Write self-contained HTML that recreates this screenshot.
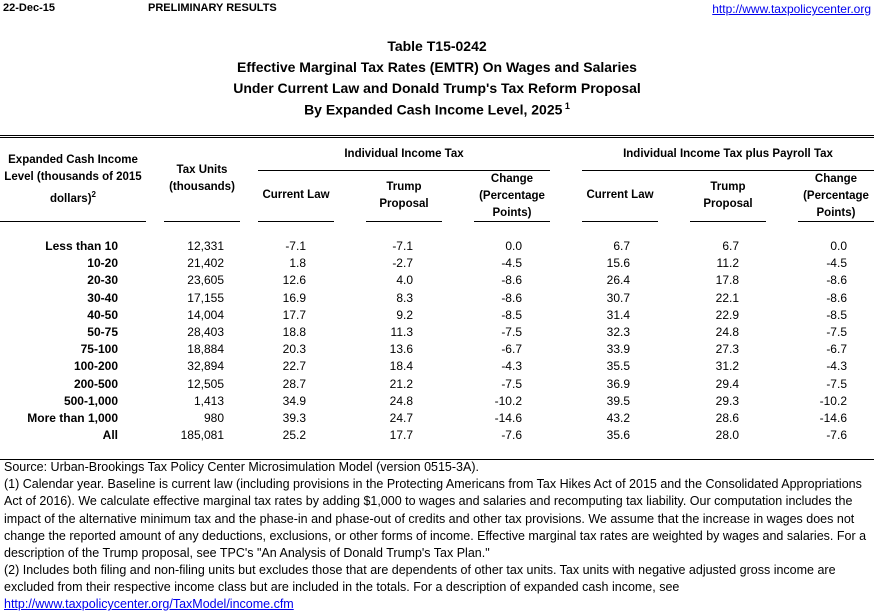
<!DOCTYPE html>
<html><head><meta charset="utf-8"><style>
body{margin:0;width:874px;height:613px;background:#fff;font-family:"Liberation Sans",Arial,sans-serif;color:#000;position:relative;overflow:hidden}
.a{position:absolute;white-space:nowrap}
.b{font-weight:bold}
.h{font-size:11.5px;font-weight:bold;text-align:center;line-height:17px}
.l{position:absolute;height:1px;background:#000}
.t{position:absolute;left:0;width:874px;text-align:center;font-weight:bold;font-size:14px}
.r{position:absolute;font-size:12px;text-align:right;white-space:nowrap}
.f{position:absolute;left:4px;font-size:12.5px;white-space:nowrap}
a{color:#00e}
</style></head><body>
<div class="a b" style="left:3px;top:2px;font-size:11px">22-Dec-15</div>
<div class="a b" style="left:148px;top:2px;font-size:11px">PRELIMINARY RESULTS</div>
<div class="a" style="right:3px;top:2px;font-size:12px;text-decoration:underline;color:#00e">http://www.taxpolicycenter.org</div>
<div class="t" style="top:38px">Table T15-0242</div>
<div class="t" style="top:59px">Effective Marginal Tax Rates (EMTR) On Wages and Salaries</div>
<div class="t" style="top:80px">Under Current Law and Donald Trump's Tax Reform Proposal</div>
<div class="t" style="top:101px">By Expanded Cash Income Level, 2025<sup style="font-size:9px"> 1</sup></div>
<div class="l" style="left:0;width:874px;top:135px"></div>
<div class="l" style="left:0;width:874px;top:137px"></div>
<div class="a h" style="left:0;width:146px;top:152px">Expanded Cash Income<br>Level (thousands of 2015<br>dollars)<sup style="font-size:8px">2</sup></div>
<div class="a h" style="left:160px;width:84px;top:162px">Tax Units<br>(thousands)</div>
<div class="a h" style="left:258px;width:292px;top:146px">Individual Income Tax</div>
<div class="a h" style="left:582px;width:292px;top:146px">Individual Income Tax plus Payroll Tax</div>
<div class="l" style="left:258px;width:292px;top:170px"></div>
<div class="l" style="left:582px;width:292px;top:170px"></div>
<div class="a h" style="left:258px;width:76px;top:187px">Current Law</div>
<div class="a h" style="left:366px;width:76px;top:179px">Trump<br>Proposal</div>
<div class="a h" style="left:470px;width:84px;top:171px">Change<br>(Percentage<br>Points)</div>
<div class="a h" style="left:582px;width:76px;top:187px">Current Law</div>
<div class="a h" style="left:690px;width:76px;top:179px">Trump<br>Proposal</div>
<div class="a h" style="left:794px;width:84px;top:171px">Change<br>(Percentage<br>Points)</div>
<div class="l" style="left:0;width:146px;top:221px"></div>
<div class="l" style="left:164px;width:76px;top:221px"></div>
<div class="l" style="left:258px;width:76px;top:221px"></div>
<div class="l" style="left:366px;width:76px;top:221px"></div>
<div class="l" style="left:474px;width:76px;top:221px"></div>
<div class="l" style="left:582px;width:76px;top:221px"></div>
<div class="l" style="left:690px;width:76px;top:221px"></div>
<div class="l" style="left:798px;width:76px;top:221px"></div>
<div id="rows"></div>
<div class="l" style="left:0;width:874px;top:459px"></div>
<div class="f" style="top:460px">Source: Urban-Brookings Tax Policy Center Microsimulation Model (version 0515-3A).</div>
<div class="f" style="top:477px">(1) Calendar year. Baseline is current law (including provisions in the Protecting Americans from Tax Hikes Act of 2015 and the Consolidated Appropriations</div>
<div class="f" style="top:494px">Act of 2016). We calculate effective marginal tax rates by adding $1,000 to wages and salaries and recomputing tax liability. Our computation includes the</div>
<div class="f" style="top:512px">impact of the alternative minimum tax and the phase-in and phase-out of credits and other tax provisions. We assume that the increase in wages does not</div>
<div class="f" style="top:529px">change the reported amount of any deductions, exclusions, or other forms of income. Effective marginal tax rates are weighted by wages and salaries. For a</div>
<div class="f" style="top:546px">description of the Trump proposal, see TPC's "An Analysis of Donald Trump's Tax Plan."</div>
<div class="f" style="top:563px">(2) Includes both filing and non-filing units but excludes those that are dependents of other tax units. Tax units with negative adjusted gross income are</div>
<div class="f" style="top:580px">excluded from their respective income class but are included in the totals. For a description of expanded cash income, see</div>
<div class="f" style="top:597px;color:#00e;text-decoration:underline">http://www.taxpolicycenter.org/TaxModel/income.cfm</div>
<script>
var d=[["Less than 10","12,331","-7.1","-7.1","0.0","6.7","6.7","0.0"],
["10-20","21,402","1.8","-2.7","-4.5","15.6","11.2","-4.5"],
["20-30","23,605","12.6","4.0","-8.6","26.4","17.8","-8.6"],
["30-40","17,155","16.9","8.3","-8.6","30.7","22.1","-8.6"],
["40-50","14,004","17.7","9.2","-8.5","31.4","22.9","-8.5"],
["50-75","28,403","18.8","11.3","-7.5","32.3","24.8","-7.5"],
["75-100","18,884","20.3","13.6","-6.7","33.9","27.3","-6.7"],
["100-200","32,894","22.7","18.4","-4.3","35.5","31.2","-4.3"],
["200-500","12,505","28.7","21.2","-7.5","36.9","29.4","-7.5"],
["500-1,000","1,413","34.9","24.8","-10.2","39.5","29.3","-10.2"],
["More than 1,000","980","39.3","24.7","-14.6","43.2","28.6","-14.6"],
["All","185,081","25.2","17.7","-7.6","35.6","28.0","-7.6"]];
var R=[118,224,306,413,522,630,739,847],h="";
d.forEach(function(r,i){var y=239+i*17.2;r.forEach(function(v,j){h+='<div class="r'+(j==0?' b':'')+'" style="right:'+(874-R[j])+'px;top:'+y+'px">'+v+'</div>';});});
document.getElementById("rows").innerHTML=h;
</script>
</body></html>
